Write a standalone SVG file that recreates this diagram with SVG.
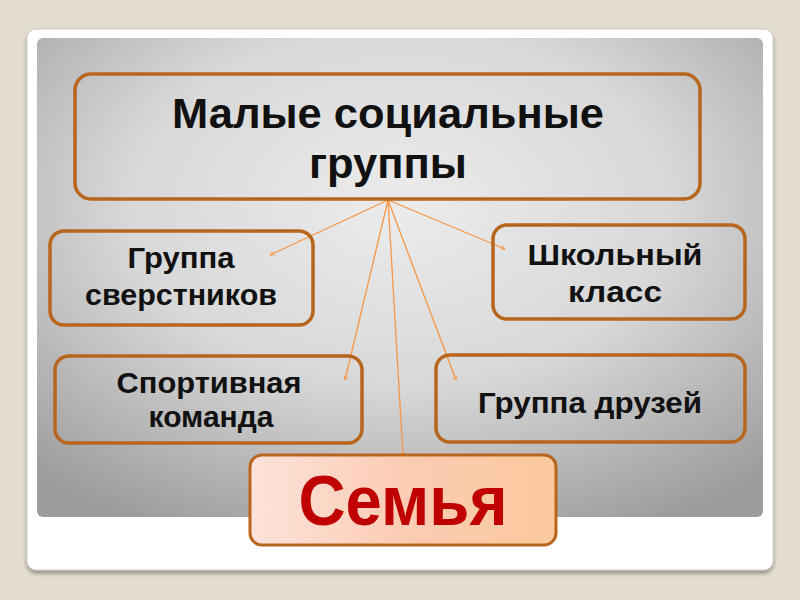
<svg xmlns="http://www.w3.org/2000/svg" width="800" height="600" viewBox="0 0 800 600">
<defs>
<radialGradient id="panel" cx="0.5" cy="0.35" r="0.75">
<stop offset="0" stop-color="#ececec"/>
<stop offset="0.5" stop-color="#d8d8d8"/>
<stop offset="1" stop-color="#9c9c9c"/>
</radialGradient>
<linearGradient id="fam" x1="0" y1="0" x2="1" y2="0">
<stop offset="0" stop-color="#fde3da"/>
<stop offset="0.5" stop-color="#fcccb4"/>
<stop offset="1" stop-color="#fbc99c"/>
</linearGradient>
<filter id="sh" x="-5%" y="-5%" width="110%" height="115%">
<feGaussianBlur in="SourceAlpha" stdDeviation="2"/>
<feOffset dy="3"/>
<feComponentTransfer><feFuncA type="linear" slope="0.35"/></feComponentTransfer>
<feMerge><feMergeNode/><feMergeNode in="SourceGraphic"/></feMerge>
</filter>
<marker id="ah" viewBox="0 0 10 10" refX="9" refY="5" markerWidth="4" markerHeight="4" orient="auto">
<path d="M1,1 L9,5 L1,9" fill="none" stroke="#f79646" stroke-width="1.5"/>
</marker>
<style>
.box{fill:none;stroke:#b8661e;stroke-width:3.5}
.t{font-family:"Liberation Sans",Arial,sans-serif;font-weight:bold;fill:#111;text-anchor:middle;font-size:30px}
.big{font-size:42px}
.c{stroke:#f79646;stroke-width:1.3;fill:none;marker-end:url(#ah)}
</style>
</defs>
<rect width="800" height="600" fill="#e3ddd1"/>
<rect x="27" y="29" width="746" height="541" rx="9" fill="#ffffff" stroke="#d0ccc4" stroke-width="1" filter="url(#sh)"/>
<rect x="37" y="38" width="726" height="479" rx="6" fill="url(#panel)"/>

<g id="connectors">
<line class="c" x1="388" y1="200" x2="270" y2="255"/>
<line class="c" x1="388" y1="200" x2="505" y2="249"/>
<line class="c" x1="388" y1="200" x2="345" y2="380"/>
<line class="c" x1="388" y1="200" x2="456" y2="380"/>
<line class="c" x1="388" y1="200" x2="403" y2="456"/>
</g>

<g id="main">
<rect class="box" x="75" y="74" width="625" height="125" rx="16"/>
<text class="t big" x="388" y="128" textLength="432" lengthAdjust="spacingAndGlyphs">Малые социальные</text>
<text class="t big" x="388" y="178" textLength="158" lengthAdjust="spacingAndGlyphs">группы</text>
</g>

<g id="peers">
<rect class="box" x="50" y="231" width="263" height="94" rx="14"/>
<text class="t" x="181" y="268" textLength="107" lengthAdjust="spacingAndGlyphs">Группа</text>
<text class="t" x="181" y="305" textLength="192" lengthAdjust="spacingAndGlyphs">сверстников</text>
</g>

<g id="school">
<rect class="box" x="493" y="225" width="252" height="94" rx="14"/>
<text class="t" x="615" y="265" textLength="175" lengthAdjust="spacingAndGlyphs">Школьный</text>
<text class="t" x="615" y="302" textLength="94" lengthAdjust="spacingAndGlyphs">класс</text>
</g>

<g id="sport">
<rect class="box" x="55" y="356" width="307" height="87" rx="14"/>
<text class="t" x="209" y="393" textLength="185" lengthAdjust="spacingAndGlyphs">Спортивная</text>
<text class="t" x="211" y="427" textLength="125" lengthAdjust="spacingAndGlyphs">команда</text>
</g>

<g id="friends">
<rect class="box" x="436" y="355" width="309" height="87" rx="14"/>
<text class="t" x="590" y="413" textLength="224" lengthAdjust="spacingAndGlyphs">Группа друзей</text>
</g>

<g id="family">
<rect x="250" y="455" width="306" height="90" rx="12" fill="url(#fam)" stroke="#b8661e" stroke-width="3"/>
<text class="t" x="403" y="525" style="fill:#c00000;font-size:70px" textLength="209" lengthAdjust="spacingAndGlyphs">Семья</text>
</g>
</svg>
